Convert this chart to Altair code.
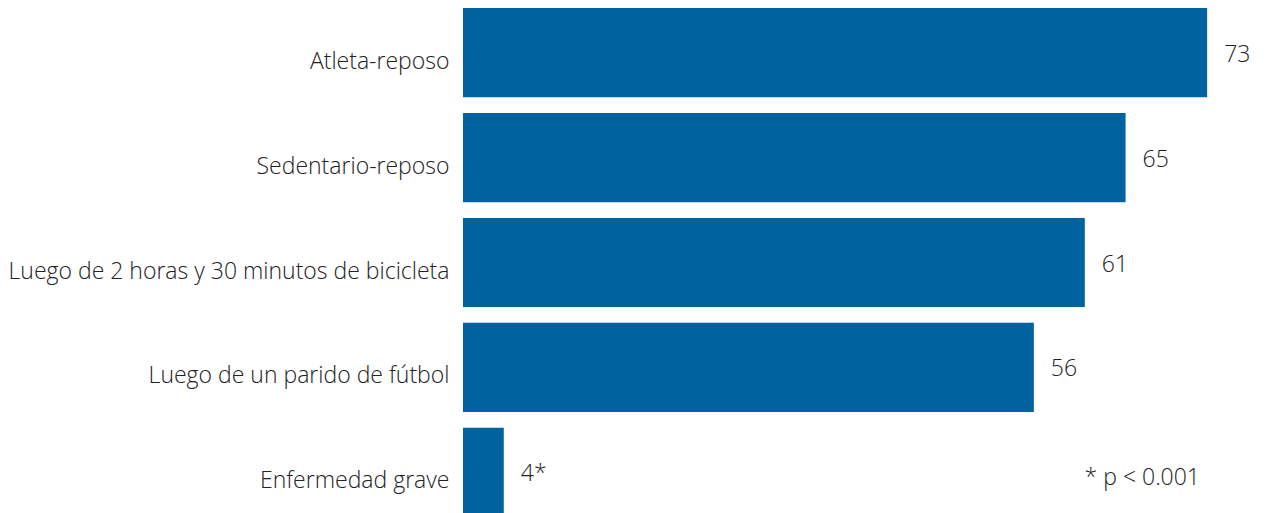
import altair as alt
import pandas as pd

categories = [
    "Atleta-reposo",
    "Sedentario-reposo",
    "Luego de 2 horas y 30 minutos de bicicleta",
    "Luego de un parido de fútbol",
    "Enfermedad grave",
]
values = [73, 65, 61, 56, 4]
value_labels = ["73", "65", "61", "56", "4*"]
note_text = "* p < 0.001"

df = pd.DataFrame({"cat": categories, "val": values, "lab": value_labels})
note_df = pd.DataFrame({"cat": [categories[-1]], "txt": [note_text]})

FONT = "Open Sans"
BLUE = "#0063A0"
TXT = "#222222"
FS = 23

y_enc = alt.Y(
    "cat:N",
    sort=categories,
    scale=alt.Scale(paddingInner=0.15, paddingOuter=0),
    axis=alt.Axis(
        title=None, domain=False, ticks=False, grid=False, labelPadding=14,
        labelFontSize=FS, labelFont=FONT, labelColor=TXT, labelFontWeight=300,
        labelLimit=700, labelOffset=9,
    ),
)
x_scale = alt.Scale(domain=[0, 77.5], nice=False, zero=True)

bars = alt.Chart(df).mark_bar(color=BLUE).encode(
    x=alt.X("val:Q", scale=x_scale, axis=None),
    y=y_enc,
)

labels = alt.Chart(df).mark_text(
    align="left", baseline="middle", dx=17, dy=2, fontSize=FS, font=FONT,
    color=TXT, fontWeight=300
).encode(
    x=alt.X("val:Q", scale=x_scale, axis=None),
    y=alt.Y("cat:N", sort=categories),
    text="lab:N",
)

note = alt.Chart(note_df).mark_text(
    align="right", baseline="middle", dy=6, fontSize=FS, font=FONT,
    color=TXT, fontWeight=300
).encode(
    x=alt.value(737),
    y=alt.Y("cat:N", sort=categories),
    text="txt:N",
)

chart = alt.layer(bars, labels, note).properties(
    width=790,
    height=509,
    background="white",
    autosize=alt.AutoSizeParams(type="none"),
    padding={"left": 455, "top": 0, "right": 0, "bottom": 0},
).configure_view(stroke=None, strokeWidth=0)

chart.save("out.html", embed_options={"renderer": "svg", "actions": False})
